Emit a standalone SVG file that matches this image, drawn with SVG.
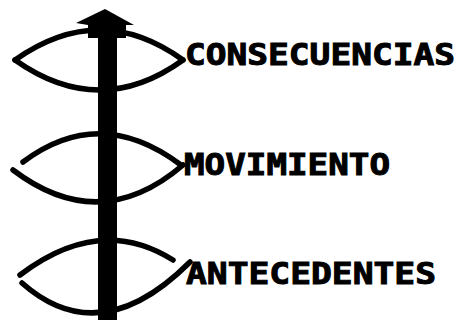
<svg xmlns="http://www.w3.org/2000/svg" width="461" height="320" viewBox="0 0 461 320">
<style>
.arc{fill:none;stroke:#000;stroke-width:5.5;stroke-linecap:round}
.lbl{font-family:"DejaVu Sans Mono","Liberation Mono",monospace;font-weight:bold;font-size:30px;fill:#000;stroke:#000;stroke-width:1}
</style>
<rect width="461" height="320" fill="#fff"/>
<g id="axis">
<rect x="98" y="30" width="19" height="290" fill="#000"/>
<polygon points="105,9 76,23 88,25 88,38 126,38 126,25 134,25" fill="#000"/>
</g>
<g id="connectors">
<path class="arc" d="M15,60 Q100,0 183,60"/>
<path class="arc" d="M15,60 Q100,120 183,60"/>
<path class="arc" d="M23,162 Q100,104 181,165"/>
<path class="arc" d="M13,170 Q100,236 183,165"/>
<path class="arc" d="M20,275 Q100,214 173,260"/>
<path class="arc" d="M22,283 Q100,352 190,262"/>
</g>
<g id="consecuencias"><text class="lbl" x="185" y="65" textLength="270" lengthAdjust="spacingAndGlyphs">CONSECUENCIAS</text></g>
<g id="movimiento"><text class="lbl" x="184" y="175" textLength="206" lengthAdjust="spacingAndGlyphs">MOVIMIENTO</text></g>
<g id="antecedentes"><text class="lbl" x="186" y="284" textLength="250" lengthAdjust="spacingAndGlyphs">ANTECEDENTES</text></g>
</svg>
